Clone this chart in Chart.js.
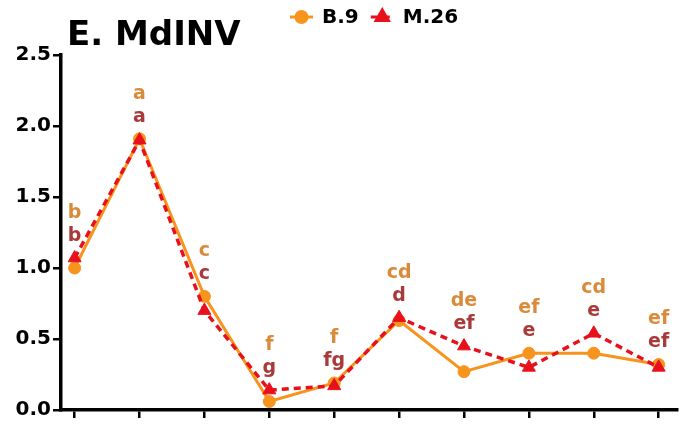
<!DOCTYPE html>
<html>
<head>
<meta charset="utf-8">
<script src="https://cdn.jsdelivr.net/npm/chart.js@4.4.1/dist/chart.umd.min.js"></script>
<style>
    html, body { margin: 0; padding: 0; background: #fff; overflow: hidden; }
    #wrap { width: 686px; height: 430px; position: relative; }
</style>
</head>
<body>
<div id="wrap"><canvas id="mdinvChart"></canvas></div>
<script>
/* ============================================
   DATA
   ============================================ */

const categories = ["1", "2", "3", "4", "5", "6", "7", "8", "9", "10"];
const b9Values  = [1.00, 1.91, 0.80, 0.06, 0.19, 0.63, 0.27, 0.40, 0.40, 0.32];
const m26Values = [1.07, 1.90, 0.70, 0.14, 0.17, 0.65, 0.45, 0.30, 0.54, 0.30];
const b9Letters  = ["b", "a", "c", "f", "f", "cd", "de", "ef", "cd", "ef"];
const m26Letters = ["b", "a", "c", "g", "fg", "d", "ef", "e", "e", "ef"];
const yTicks = [0, 0.5, 1.0, 1.5, 2.0, 2.5];

const ORANGE = "#F7941E";
const RED = "#E8111B";
const ORANGE_TEXT = "#D98B3A";
const RED_TEXT = "#A83A3A";
const FONT = "'DejaVu Sans', sans-serif";


/* ============================================
   TITLE, LEGEND AND LETTER LABELS
   ============================================ */

const decorPlugin = {
    id: "decor",
    afterDatasetsDraw(chart) {
        const ctx = chart.ctx;
        const xs = chart.scales.x;
        const ys = chart.scales.y;
        ctx.save();

        // letters above each pair of points
        ctx.font = "bold 19px " + FONT;
        ctx.textAlign = "center";
        ctx.textBaseline = "middle";
        categories.forEach(function (c, i) {
            const px = xs.getPixelForValue(i);
            const top = ys.getPixelForValue(Math.max(b9Values[i], m26Values[i]));
            ctx.fillStyle = RED_TEXT;
            ctx.fillText(m26Letters[i], px, top - 22);
            ctx.fillStyle = ORANGE_TEXT;
            ctx.fillText(b9Letters[i], px, top - 45);
        });

        // title
        ctx.fillStyle = "#000";
        ctx.textAlign = "left";
        ctx.textBaseline = "alphabetic";
        ctx.font = "bold 34px " + FONT;
        ctx.fillText("E. MdINV", 67, 45);

        // legend
        const ly = 17;
        let lx = 290;
        chart.data.datasets.slice().reverse().forEach(function (ds) {
            ctx.save();
            ctx.strokeStyle = ds.borderColor;
            ctx.lineWidth = 3;
            ctx.setLineDash(ds.borderDash || []);
            ctx.beginPath();
            ctx.moveTo(lx, ly);
            ctx.lineTo(lx + 23, ly);
            ctx.stroke();
            ctx.setLineDash([]);
            ctx.fillStyle = ds.pointBackgroundColor;
            ctx.strokeStyle = ds.pointBackgroundColor;
            Chart.helpers.drawPoint(ctx, {
                pointStyle: ds.pointStyle,
                radius: ds.pointRadius - 0.5,
                borderWidth: 1
            }, lx + 11.5, ly);
            ctx.restore();
            ctx.fillStyle = "#000";
            ctx.font = "bold 20px " + FONT;
            ctx.textBaseline = "middle";
            ctx.fillText(ds.label, lx + 32, ly + 1);
            lx += 32 + ctx.measureText(ds.label).width + 12;
        });

        ctx.restore();
    }
};


/* ============================================
   CHART
   ============================================ */

document.addEventListener("DOMContentLoaded", function () {

    const ctx = document.getElementById("mdinvChart");

    new Chart(ctx, {
        type: "line",
        data: {
            datasets: [{
                label: "M.26",
                data: m26Values.map((v, i) => ({ x: i, y: v })),
                borderColor: RED,
                borderWidth: 3.5,
                borderDash: [7, 5],
                pointStyle: "triangle",
                pointRadius: 7.5,
                pointBackgroundColor: RED,
                pointBorderColor: RED,
                pointBorderWidth: 1,
                tension: 0,
                clip: false,
                order: 0
            }, {
                label: "B.9",
                data: b9Values.map((v, i) => ({ x: i, y: v })),
                borderColor: ORANGE,
                borderWidth: 3,
                pointStyle: "circle",
                pointRadius: 6,
                pointBackgroundColor: ORANGE,
                pointBorderColor: ORANGE,
                pointBorderWidth: 1,
                tension: 0,
                clip: false,
                order: 1
            }]
        },
        options: {
            responsive: true,
            maintainAspectRatio: false,
            animation: false,
            layout: { padding: { top: 55, right: 0, left: 0, bottom: 0 } },
            plugins: {
                legend: { display: false },
                title: { display: false },
                tooltip: { enabled: false }
            },
            scales: {
                x: {
                    type: "linear",
                    min: -0.21,
                    max: 9.29,
                    afterFit: function (s) { s.height = 20; },
                    border: { display: true, color: "#000", width: 3.5 },
                    grid: {
                        drawOnChartArea: false,
                        drawTicks: true,
                        tickLength: 8,
                        color: "#000",
                        lineWidth: 2.5
                    },
                    ticks: {
                        stepSize: 1,
                        includeBounds: false,
                        callback: function () { return ""; }
                    }
                },
                y: {
                    min: yTicks[0],
                    max: yTicks[yTicks.length - 1],
                    afterFit: function (s) { s.width = 61; },
                    border: { display: true, color: "#000", width: 3.5 },
                    grid: {
                        drawOnChartArea: false,
                        drawTicks: true,
                        tickLength: 8,
                        color: "#000",
                        lineWidth: 2.5
                    },
                    afterBuildTicks: function (s) {
                        s.ticks = yTicks.map(v => ({ value: v }));
                    },
                    ticks: {
                        padding: 2,
                        color: "#000",
                        font: { family: FONT, size: 20, weight: "bold" },
                        callback: function (v) { return Number(v).toFixed(1); }
                    }
                }
            }
        },
        plugins: [decorPlugin]
    });
});
</script>
</body>
</html>
